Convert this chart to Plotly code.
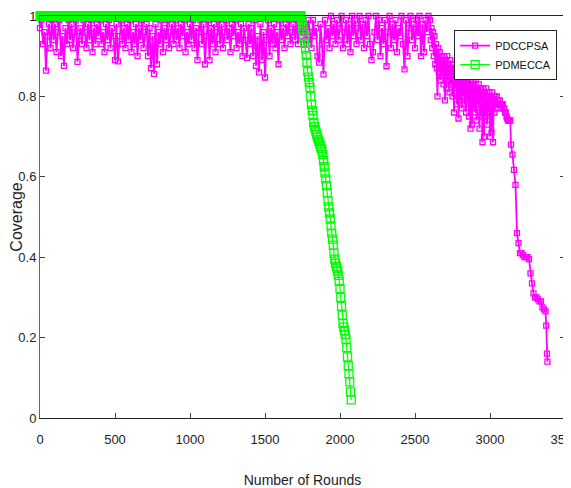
import plotly.graph_objects as go

# ---------------- data ----------------
# PDCCPSA: sampled every 10 rounds from 0 to 2590
pdccpsa_band = [
    # 0-990
    0.97, 0.99, 0.93, 0.96, 0.864, 0.95, 0.98, 0.92, 0.99, 0.94,
    0.98, 0.91, 0.96, 0.99, 0.90, 0.95, 0.876, 0.97, 0.93, 0.99,
    0.94, 0.98, 0.92, 0.96, 0.99, 0.886, 0.95, 0.97, 0.93, 0.99,
    0.96, 0.92, 0.98, 0.94, 0.99, 0.91, 0.97, 0.93, 0.98, 0.95,
    0.99, 0.93, 0.96, 0.91, 0.98, 0.94, 0.99, 0.92, 0.97, 0.95,
    0.89, 0.98, 0.887, 0.95, 0.99, 0.93, 0.97, 0.92, 0.98, 0.94,
    0.99, 0.91, 0.96, 0.93, 0.98, 0.90, 0.97, 0.94, 0.99, 0.92,
    0.96, 0.98, 0.90, 0.97, 0.87, 0.95, 0.856, 0.98, 0.88, 0.96,
    0.93, 0.99, 0.91, 0.97, 0.94, 0.99, 0.92, 0.96, 0.98, 0.93,
    0.99, 0.94, 0.97, 0.92, 0.98, 0.95, 0.99, 0.91, 0.96, 0.93,
    # 1000-1990
    0.98, 0.94, 0.99, 0.92, 0.97, 0.89, 0.96, 0.99, 0.93, 0.98,
    0.88, 0.95, 0.99, 0.89, 0.97, 0.93, 0.98, 0.91, 0.96, 0.99,
    0.93, 0.98, 0.92, 0.96, 0.99, 0.94, 0.97, 0.91, 0.98, 0.95,
    0.99, 0.92, 0.96, 0.93, 0.98, 0.90, 0.97, 0.94, 0.896, 0.98,
    0.93, 0.97, 0.90, 0.99, 0.876, 0.95, 0.86, 0.98, 0.89, 0.96,
    0.847, 0.94, 0.99, 0.90, 0.97, 0.93, 0.98, 0.92, 0.96, 0.88,
    0.99, 0.94, 0.97, 0.92, 0.98, 0.95, 0.99, 0.93, 0.96, 0.98,
    0.94, 0.99, 0.93, 0.97, 0.95, 0.99, 0.93, 0.98, 0.94, 0.99,
    0.96, 0.92, 0.99, 0.95, 0.97, 0.90, 0.884, 0.98, 0.93, 0.855,
    0.99, 0.94, 0.97, 0.92, 1.00, 0.95, 0.98, 0.93, 0.99, 0.94,
    # 2000-2590
    0.97, 1.00, 0.92, 0.96, 0.99, 0.93, 0.98, 0.91, 1.00, 0.95,
    0.99, 0.93, 0.97, 1.00, 0.94, 0.98, 0.92, 0.99, 0.95, 1.00,
    0.93, 0.89, 0.91, 0.96, 1.00, 0.94, 0.99, 0.90, 0.97, 0.93,
    0.99, 0.875, 0.96, 1.00, 0.92, 0.98, 0.94, 0.99, 0.91, 0.97,
    0.95, 1.00, 0.93, 0.867, 0.99, 0.90, 0.97, 1.00, 0.94, 0.98,
    0.92, 0.99, 0.95, 1.00, 0.90, 0.98, 0.91, 0.99, 0.96, 1.00,
]
pdccpsa_band_rounds = list(range(0, 10 * len(pdccpsa_band), 10))

# PDCCPSA: sampled every 5 rounds from 2600 to 3135 (decaying band)
pdccpsa_decay = [
    0.99, 0.94, 0.97, 0.92, 0.96, 0.90, 0.95, 0.88, 0.93, 0.87,
    0.80, 0.92, 0.86, 0.91, 0.84, 0.90, 0.85, 0.89, 0.83, 0.90,
    0.79, 0.89, 0.82, 0.90, 0.84, 0.88, 0.81, 0.89, 0.83, 0.87,
    0.80, 0.88, 0.76, 0.87, 0.82, 0.86, 0.78, 0.88, 0.745, 0.86,
    0.79, 0.87, 0.77, 0.85, 0.80, 0.86, 0.78, 0.84, 0.76, 0.85,
    0.79, 0.84, 0.75, 0.85, 0.72, 0.83, 0.73, 0.84, 0.77, 0.83,
    0.76, 0.84, 0.74, 0.82, 0.78, 0.83, 0.72, 0.82, 0.75, 0.81,
    0.686, 0.82, 0.70, 0.81, 0.75, 0.82, 0.73, 0.80, 0.76, 0.81,
    0.70, 0.80, 0.71, 0.81, 0.686, 0.80, 0.76, 0.80, 0.78, 0.80,
    0.77, 0.79, 0.78, 0.79, 0.77, 0.78, 0.78, 0.78, 0.77, 0.77,
    0.76, 0.76, 0.75, 0.745, 0.74, 0.74, 0.74, 0.74,
]
pdccpsa_decay_rounds = list(range(2600, 2600 + 5 * len(pdccpsa_decay), 5))

# PDCCPSA: final collapse
pdccpsa_tail_rounds = [3140, 3150, 3160, 3170, 3180, 3190, 3200, 3210, 3220,
                       3230, 3240, 3250, 3260, 3270, 3280, 3290, 3300, 3310,
                       3320, 3330, 3340, 3350, 3360, 3370, 3375, 3380, 3383]
pdccpsa_tail = [0.68, 0.655, 0.617, 0.58, 0.46, 0.435, 0.41, 0.41, 0.405,
                0.40, 0.40, 0.40, 0.395, 0.36, 0.335, 0.31, 0.30, 0.30,
                0.295, 0.29, 0.29, 0.275, 0.27, 0.265, 0.23, 0.16, 0.14]

pdccpsa_rounds = pdccpsa_band_rounds + pdccpsa_decay_rounds + pdccpsa_tail_rounds
pdccpsa_values = pdccpsa_band + pdccpsa_decay + pdccpsa_tail

# PDMECCA: full coverage (1.0) every round up to 1735, then the decline
pdmecca_plateau_rounds = list(range(0, 1740, 5))
pdmecca_plateau = [1.0 for _ in pdmecca_plateau_rounds]
pdmecca_decline_rounds = list(range(1740, 2080, 5))
pdmecca_decline = [
    1.000, 0.990, 0.975, 0.962, 0.948, 0.932, 0.918, 0.902, 0.885, 0.862,
    0.848, 0.835, 0.822, 0.800, 0.780, 0.765, 0.752, 0.735, 0.725, 0.718,
    0.712, 0.705, 0.698, 0.692, 0.688, 0.682, 0.676, 0.670, 0.664, 0.655,
    0.640, 0.625, 0.610, 0.595, 0.578, 0.560, 0.540, 0.525, 0.510, 0.495,
    0.478, 0.460, 0.445, 0.430, 0.410, 0.395, 0.385, 0.378, 0.372, 0.365,
    0.355, 0.340, 0.322, 0.300, 0.278, 0.256, 0.235, 0.226, 0.218, 0.208,
    0.196, 0.175, 0.152, 0.130, 0.110, 0.090, 0.065, 0.045,
]
pdmecca_rounds = pdmecca_plateau_rounds + pdmecca_decline_rounds
pdmecca_values = pdmecca_plateau + pdmecca_decline

x_ticks = [0, 500, 1000, 1500, 2000, 2500, 3000, 3500]
y_ticks = [0, 0.2, 0.4, 0.6, 0.8, 1]
y_tick_labels = ["0", "0.2", "0.4", "0.6", "0.8", "1"]

# ---------------- figure ----------------
FONT = "Liberation Sans, Arial, sans-serif"

fig = go.Figure()
fig.add_trace(go.Scatter(
    x=pdccpsa_rounds, y=pdccpsa_values, name="PDCCPSA", mode="lines+markers",
    line=dict(color="#FF00FF", width=1.8),
    marker=dict(symbol="square-open", size=5, color="#FF00FF",
                line=dict(width=1.3, color="#FF00FF")),
    cliponaxis=False,
))
fig.add_trace(go.Scatter(
    x=pdmecca_rounds, y=pdmecca_values, name="PDMECCA", mode="lines+markers",
    line=dict(color="#00FF00", width=1.2),
    marker=dict(symbol="square-open", size=8, color="#00FF00",
                line=dict(width=1.3, color="#00FF00")),
    cliponaxis=False,
))

# The page has an 8 px body margin, so the figure is drawn 8 px smaller
fig.update_layout(
    width=563, height=480,
    margin=dict(l=32, r=6, t=8, b=70),
    paper_bgcolor="white", plot_bgcolor="white",
    font=dict(family=FONT, size=13, color="#222"),
    showlegend=True,
    legend=dict(
        x=0.985, y=0.965, xanchor="right", yanchor="top",
        bgcolor="white", bordercolor="#222", borderwidth=1,
        font=dict(family=FONT, size=11, color="#111"),
        itemwidth=30, tracegroupgap=4,
    ),
)
fig.update_xaxes(
    range=[0, 3500], tickvals=x_ticks, tickformat="d",
    ticks="inside", ticklen=5, tickcolor="#444",
    showline=True, linecolor="#222", linewidth=1, mirror="ticks",
    showgrid=False, zeroline=False, automargin=False,
    ticklabelstandoff=9, ticklabeloverflow="allow",
    tickfont=dict(family=FONT, size=13, color="#222"),
    title=dict(text="Number of Rounds", standoff=32,
               font=dict(family=FONT, size=14, color="#222")),
)
fig.update_yaxes(
    range=[0, 1], tickvals=y_ticks, ticktext=y_tick_labels,
    ticks="inside", ticklen=5, tickcolor="#444",
    showline=True, linecolor="#666", linewidth=1, mirror="ticks",
    showgrid=False, zeroline=False, automargin=False,
    ticklabeloverflow="allow",
    tickfont=dict(family=FONT, size=13, color="#222"),
    title=dict(text="Coverage", standoff=2,
               font=dict(family=FONT, size=16, color="#222")),
)

fig.write_html("out.html")
